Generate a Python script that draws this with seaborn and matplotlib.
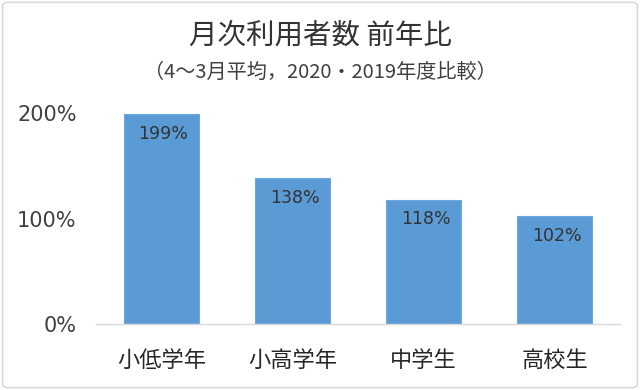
import matplotlib
matplotlib.use("Agg")
import matplotlib.pyplot as plt
import seaborn as sns
import pandas as pd
from matplotlib.patches import FancyBboxPatch

categories = ["小低学年", "小高学年", "中学生", "高校生"]
values = [199, 138, 118, 102]
yticks = [0, 100, 200]
ytick_labels = ["0%", "100%", "200%"]
title = "月次利用者数 前年比"
subtitle = "（4～3月平均，2020・2019年度比較）"

sns.set_theme(style="white")
plt.rcParams['font.family'] = ['Noto Sans CJK JP', 'DejaVu Sans']

df = pd.DataFrame({"cat": categories, "val": values})

fig = plt.figure(figsize=(6.4, 3.9), dpi=100)
ax = fig.add_axes([96/640, 66/390, 524/640, 211/390])
sns.barplot(data=df, x="cat", y="val", color="#5b9bd5", width=0.565, ax=ax,
            saturation=1, edgecolor="#6fa8dc", linewidth=0.8)

ax.set_xlim(-0.5, len(categories) - 0.5)
ax.set_ylim(0, 200)
ax.set_yticks(yticks)
ax.set_yticklabels(ytick_labels, fontsize=15, color="#404040",
                   family=["DejaVu Sans"])
ax.tick_params(axis="x", labelsize=16, colors="#262626", pad=18, length=0)
ax.tick_params(axis="y", length=0, pad=14)
ax.set_xlabel("")
ax.set_ylabel("")
for s in ["top", "right", "left"]:
    ax.spines[s].set_visible(False)
ax.spines["bottom"].set_color("#d9d9d9")
ax.spines["bottom"].set_linewidth(1)

for i, v in enumerate(values):
    ax.text(i + 0.015, v - 18.5, f"{v}%", ha="center", va="center", fontsize=12.5,
            color="#333333", family=["DejaVu Sans"])

fig.text(0.5, 1 - 36/390, title, ha="center", va="center", fontsize=20.5, color="#333333")
fig.text(0.5, 1 - 72/390, subtitle, ha="center", va="center", fontsize=14.5, color="#404040")

border = FancyBboxPatch((0.004, 0.006), 0.992, 0.988, boxstyle="round,pad=0,rounding_size=0.01",
                        transform=fig.transFigure, fill=False, edgecolor="#d9d9d9", linewidth=1.2)
fig.patches.append(border)

fig.savefig("out.png", dpi=100)
